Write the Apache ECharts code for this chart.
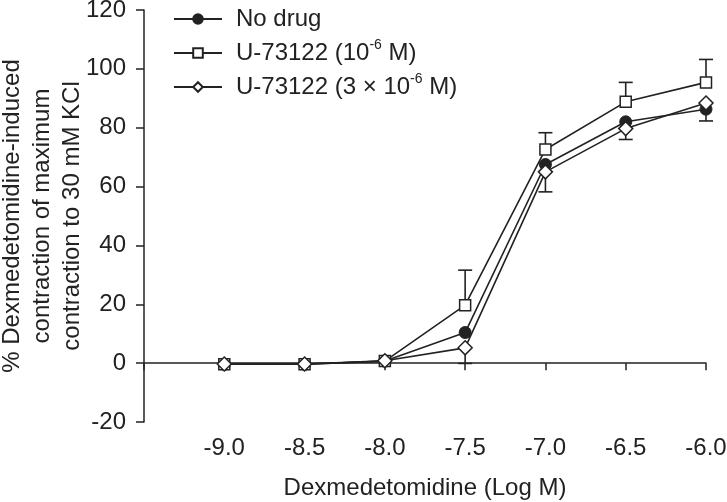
<!DOCTYPE html>
<html><head><meta charset="utf-8">
<script src="https://cdn.jsdelivr.net/npm/echarts@6/dist/echarts.min.js"></script>
<style>html,body{margin:0;padding:0;background:#fff}#c{width:727px;height:502px}</style>
</head><body><div id="c"></div>
<script>
const xVals = [-9.0, -8.5, -8.0, -7.5, -7.0, -6.5, -6.0];
const xTickLabels = ['-9.0', '-8.5', '-8.0', '-7.5', '-7.0', '-6.5', '-6.0'];
const seriesNames = ['No drug', 'U-73122 (10-6 M)', 'U-73122 (3 × 10-6 M)'];
const noDrug = [-0.4, -0.4, 0.7, 10.4, 67.5, 82.0, 86.3];
const u1 = [-0.4, -0.4, 0.7, 19.7, 72.6, 88.8, 95.4];
const u3 = [-0.3, -0.3, 0.8, 5.2, 65.0, 79.7, 88.4];
const u1ErrUp = [0, 0, 0, 11.9, 5.7, 6.6, 7.8];
const u3ErrDown = [0, 0, 0, 5.3, 6.8, 3.7, 6.1];

const INK = '#222';
const FONT = '"Liberation Sans", Arial, sans-serif';
const FS = 24;

function pairs(ys) { return xVals.map((x, i) => [x, ys[i]]); }

const errData = [];
xVals.forEach((x, i) => {
  if (u1ErrUp[i] > 0) errData.push([x, u1[i], u1[i] + u1ErrUp[i]]);
  if (u3ErrDown[i] > 0) errData.push([x, u3[i], u3[i] - u3ErrDown[i]]);
});

const legendRich = {
  g: { width: 9, fontSize: FS, fontFamily: FONT, lineHeight: 30 },
  t: { fontSize: FS, fontFamily: FONT, color: INK, lineHeight: 30 },
  sup: { fontSize: 14, fontFamily: FONT, color: INK, verticalAlign: 'top', lineHeight: 30, padding: [0, 0, 12, 0] }
};

const chart = echarts.init(document.getElementById('c'), null, { renderer: 'canvas' });
chart.setOption({
  animation: false,
  backgroundColor: '#fff',
  grid: { left: 144, right: 21, top: 10, bottom: 80, containLabel: false, outerBoundsMode: 'none' },
  legend: {
    orient: 'vertical', left: 168, top: 0, padding: [4, 5, 5, 5], itemWidth: 48, itemHeight: 12, itemGap: 4,
    data: seriesNames,
    textStyle: { fontSize: FS, fontFamily: FONT, color: INK, lineHeight: 30, rich: legendRich },
    formatter: function (name) {
      if (name === seriesNames[0]) return '{g| }{t|No drug}';
      if (name === seriesNames[1]) return '{g| }{t|U-73122 (10}{sup|-6}{t| M)}';
      return '{g| }{t|U-73122 (3 × 10}{sup|-6}{t| M)}';
    }
  },
  xAxis: {
    type: 'value', min: -9.5, max: -6.0, interval: 0.5,
    name: 'Dexmedetomidine (Log M)', nameLocation: 'middle', nameGap: 54, nameMoveOverlap: false,
    nameTextStyle: { fontSize: FS, fontFamily: FONT, color: INK },
    axisLine: { lineStyle: { color: INK, width: 1.5 } },
    axisTick: { length: 7, lineStyle: { color: INK, width: 1.5 } },
    axisLabel: { margin: 14, fontSize: FS, fontFamily: FONT, color: INK,
      formatter: function (v) { const i = xVals.findIndex(x => Math.abs(x - v) < 1e-6); return i >= 0 ? xTickLabels[i] : ''; } },
    splitLine: { show: false }
  },
  yAxis: {
    type: 'value', min: -20, max: 120, interval: 20,
    name: '% Dexmedetomidine-induced\ncontraction of maximum\ncontraction to 30 mM KCl',
    nameLocation: 'middle', nameGap: 57, nameRotate: 90, nameMoveOverlap: false,
    nameTextStyle: { fontSize: FS, fontFamily: FONT, color: INK, lineHeight: 30, align: 'center' },
    axisLine: { show: true, lineStyle: { color: INK, width: 1.5 } },
    axisTick: { show: true, length: 8, lineStyle: { color: INK, width: 1.5 } },
    axisLabel: { margin: 18, fontSize: FS, fontFamily: FONT, color: INK },
    splitLine: { show: false }
  },
  series: [
    {
      type: 'custom', name: 'err', silent: true, z: 1, legendHoverLink: false,
      data: errData,
      renderItem: function (params, api) {
        const x = api.value(0);
        const p0 = api.coord([x, api.value(1)]);
        const p1 = api.coord([x, api.value(2)]);
        const hw = 7;
        return { type: 'group', children: [
          { type: 'line', shape: { x1: p0[0], y1: p0[1], x2: p1[0], y2: p1[1] }, style: { stroke: INK, lineWidth: 1.6 } },
          { type: 'line', shape: { x1: p1[0] - hw, y1: p1[1], x2: p1[0] + hw, y2: p1[1] }, style: { stroke: INK, lineWidth: 1.6 } }
        ] };
      }
    },
    {
      name: seriesNames[0], type: 'line', data: pairs(noDrug), z: 3,
      symbol: 'circle', symbolSize: 12,
      lineStyle: { color: INK, width: 1.6 },
      itemStyle: { color: INK, borderColor: INK, borderWidth: 1 }
    },
    {
      name: seriesNames[1], type: 'line', data: pairs(u1), z: 4,
      symbol: 'rect', symbolSize: 11,
      lineStyle: { color: INK, width: 1.6 },
      itemStyle: { color: '#fff', borderColor: INK, borderWidth: 1.5 }
    },
    {
      name: seriesNames[2], type: 'line', data: pairs(u3), z: 5,
      symbol: 'diamond', symbolSize: 14,
      lineStyle: { color: INK, width: 1.6 },
      itemStyle: { color: '#fff', borderColor: INK, borderWidth: 1.5 }
    }
  ]
});
</script></body></html>
